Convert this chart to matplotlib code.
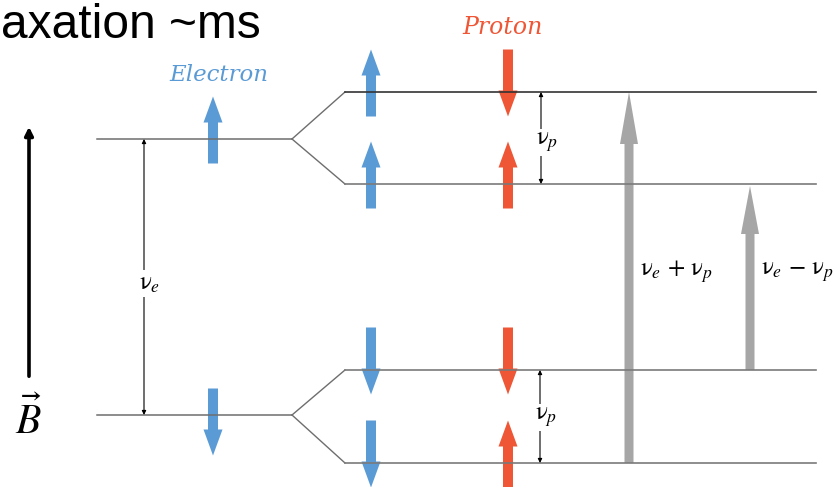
import matplotlib.pyplot as plt

plt.rcParams['mathtext.fontset'] = 'stix'

# energy levels (pixel-like diagram units, y grows downward)
electron_levels = [139, 415]          # before hyperfine splitting
split_levels = [92, 184, 370, 463]    # after splitting
electron_spin = ['up', 'down']
right_electron_spin = ['up', 'up', 'down', 'down']
proton_spin = ['down', 'up', 'down', 'up']
level_colors = ['#333333', '#7a7a7a', '#7a7a7a', '#7a7a7a']

blue = '#5b9bd5'
red = '#ee5635'
gray = '#a6a6a6'

fig = plt.figure(figsize=(8.37, 4.87), dpi=100)
ax = fig.add_axes([0, 0, 1, 1])
ax.set_xlim(0, 837)
ax.set_ylim(487, 0)
ax.axis('off')

# title fragment
ax.text(1, 38, 'axation ~ms', fontsize=34.5, family='Liberation Sans', color='black', va='baseline')

# B field arrow
ax.annotate('', xy=(29, 124), xytext=(29, 379),
            arrowprops=dict(arrowstyle='-|>', lw=2.6, color='black', mutation_scale=12))
ax.text(28, 420, r'$\vec{B}$', fontsize=30, ha='center', va='center')

# levels
for y0, (ya, yb) in zip(electron_levels, [(0, 1), (2, 3)]):
    ax.plot([97, 292], [y0, y0], color='#6e6e6e', lw=1.1)
    ax.plot([292, 345], [y0, split_levels[ya]], color='#6e6e6e', lw=1.0)
    ax.plot([292, 345], [y0, split_levels[yb]], color='#6e6e6e', lw=1.0)
for y, c in zip(split_levels, level_colors):
    ax.plot([345, 816], [y, y], color=c, lw=1.2)


def spin_arrow(x, yc, spin, color, length=67, shaft=10, head=19, head_len=26):
    # arrow centred vertically on yc
    if spin == 'up':
        y_start, dy = yc + length / 2, -length
    else:
        y_start, dy = yc - length / 2, length
    ax.arrow(x, y_start, 0, dy, width=shaft, head_width=head, head_length=head_len,
             length_includes_head=True, color=color, lw=0)


for y, s in zip(electron_levels, electron_spin):
    spin_arrow(213, y + (-9 if s == 'up' else 7), s, blue)
for y, s in zip(split_levels, right_electron_spin):
    spin_arrow(371, y - 9, s, blue)
for y, s in zip(split_levels, proton_spin):
    spin_arrow(508, y - 9, s, red)

ax.text(219, 75, 'Electron', color=blue, fontsize=16.5, style='italic',
        family='DejaVu Serif', ha='center', va='center')
ax.text(503, 27, 'Proton', color=red, fontsize=17, style='italic',
        family='DejaVu Serif', ha='center', va='center')

# splitting markers
def gap(x, y1, y2, label, lx, ly):
    ax.annotate('', xy=(x, y1), xytext=(x, y2),
                arrowprops=dict(arrowstyle='<|-|>', lw=0.8, color='black',
                                mutation_scale=6, shrinkA=0, shrinkB=0))
    ax.text(lx, ly, label, fontsize=18, ha='center', va='center',
            bbox=dict(facecolor='white', edgecolor='none', pad=1))


gap(144, electron_levels[0], electron_levels[1], r'$\mathrm{\nu}_e$', 149, 283)
gap(541, split_levels[0], split_levels[1], r'$\mathrm{\nu}_p$', 547, 142)
gap(540, split_levels[2], split_levels[3], r'$\mathrm{\nu}_p$', 546, 417)

# transitions
ax.arrow(629, split_levels[3], 0, split_levels[0] - split_levels[3], width=9, head_width=18,
         head_length=52, length_includes_head=True, color=gray, lw=0)
ax.arrow(750, split_levels[2], 0, split_levels[1] + 2 - split_levels[2], width=9, head_width=18,
         head_length=48, length_includes_head=True, color=gray, lw=0)
ax.text(640, 272, r'$\mathrm{\nu}_e\,+\,\mathrm{\nu}_p$', fontsize=18, va='center')
ax.text(761, 272, r'$\mathrm{\nu}_e\,-\,\mathrm{\nu}_p$', fontsize=18, va='center')

fig.savefig('out.png', dpi=100)
